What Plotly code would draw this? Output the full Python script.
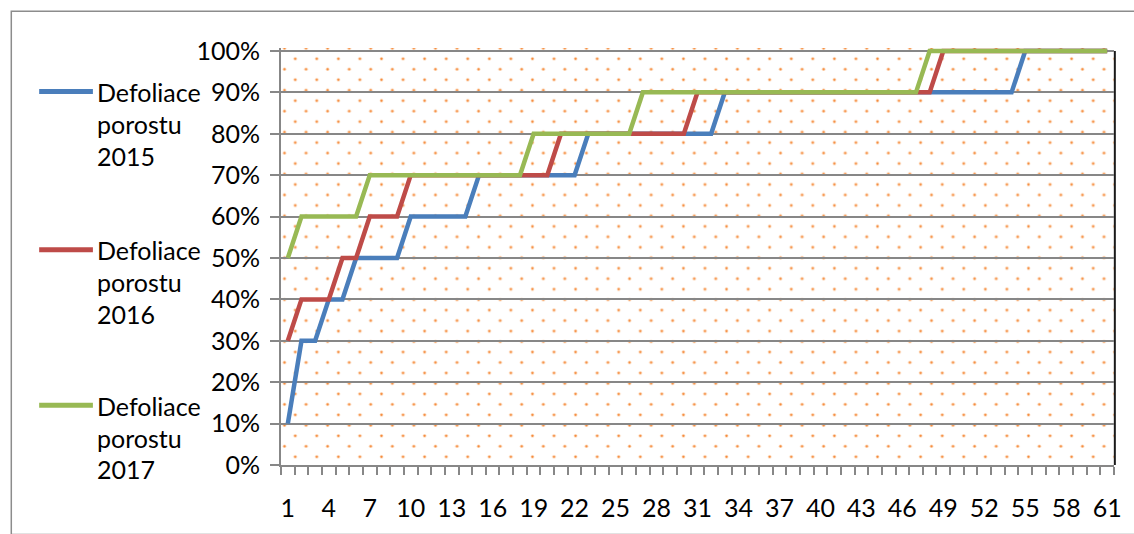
import base64
import plotly.graph_objects as go

# Category numbers on the horizontal axis
positions = list(range(1, 62))

# Defoliation share (%) per category
defol_2015 = [
    10, 30, 30, 40, 40, 50, 50, 50, 50, 60,
    60, 60, 60, 60, 70, 70, 70, 70, 70, 70,
    70, 70, 80, 80, 80, 80, 80, 80, 80, 80,
    80, 80, 90, 90, 90, 90, 90, 90, 90, 90,
    90, 90, 90, 90, 90, 90, 90, 90, 90, 90,
    90, 90, 90, 90, 100, 100, 100, 100, 100, 100,
    100,
]
defol_2016 = [
    30, 40, 40, 40, 50, 50, 60, 60, 60, 70,
    70, 70, 70, 70, 70, 70, 70, 70, 70, 70,
    80, 80, 80, 80, 80, 80, 80, 80, 80, 80,
    90, 90, 90, 90, 90, 90, 90, 90, 90, 90,
    90, 90, 90, 90, 90, 90, 90, 90, 100, 100,
    100, 100, 100, 100, 100, 100, 100, 100, 100, 100,
    100,
]
defol_2017 = [
    50, 60, 60, 60, 60, 60, 70, 70, 70, 70,
    70, 70, 70, 70, 70, 70, 70, 70, 80, 80,
    80, 80, 80, 80, 80, 80, 90, 90, 90, 90,
    90, 90, 90, 90, 90, 90, 90, 90, 90, 90,
    90, 90, 90, 90, 90, 90, 90, 100, 100, 100,
    100, 100, 100, 100, 100, 100, 100, 100, 100, 100,
    100,
]

series_names = ["Defoliace porostu 2015", "Defoliace porostu 2016", "Defoliace porostu 2017"]
series_values = [defol_2015, defol_2016, defol_2017]
series_colors = ["#4A7EBB", "#BE4B48", "#98B954"]

x_tick_vals = list(range(1, 62, 3))
x_tick_text = [str(v) for v in x_tick_vals]
y_tick_vals = list(range(0, 101, 10))
y_tick_text = [f"{v}%" for v in y_tick_vals]

# Figure geometry (pixels)
W, H = 1134, 534
PL, PR, PT, PB = 281, 1118, 48, 474
Y_TOP = 100.71  # leaves room above 100% so the top line is not clipped

FONT = "Lato, 'Open Sans', sans-serif"
FSIZE = 25
GRAY = "#878787"


def px_x(px):
    return (px - PL) / (PR - PL)


def px_y(py):
    return (PB - py) / (PB - PT)


# Dotted fill of the plotting area as an SVG pattern
pw, ph = PR - PL, PB - PT
svg = (
    f"<svg xmlns='http://www.w3.org/2000/svg' width='{pw}' height='{ph}' "
    f"viewBox='0 0 {pw} {ph}' preserveAspectRatio='none'>"
    "<defs><pattern id='d' x='0' y='2' width='21.67' height='21.4' patternUnits='userSpaceOnUse'>"
    "<circle cx='14.3' cy='9' r='1.9' fill='#F79646' fill-opacity='0.35'/>"
    "<circle cx='14.3' cy='9' r='1.15' fill='#F5893A'/>"
    "<circle cx='3.5' cy='19.7' r='1.9' fill='#F79646' fill-opacity='0.35'/>"
    "<circle cx='3.5' cy='19.7' r='1.15' fill='#F5893A'/>"
    "</pattern></defs>"
    f"<rect width='{pw}' height='{ph}' fill='url(#d)'/></svg>"
)
dots_uri = "data:image/svg+xml;base64," + base64.b64encode(svg.encode()).decode()

fig = go.Figure()
for name, vals, col in zip(series_names, series_values, series_colors):
    fig.add_trace(go.Scatter(
        x=positions, y=vals, mode="lines", name=name,
        line=dict(color=col, width=4.5),
        showlegend=False, hoverinfo="x+y+name",
    ))

shapes = [
    # outer chart frame
    dict(type="rect", xref="paper", yref="paper",
         x0=px_x(10), x1=px_x(1145), y0=px_y(545), y1=px_y(10.5),
         line=dict(color="#8C8C8C", width=1.5), layer="below"),
    # plot area border (top and right)
    dict(type="line", xref="paper", yref="y", x0=0, x1=1, y0=100, y1=100,
         line=dict(color="#1A1A1A", width=2), layer="between"),
    dict(type="line", xref="paper", yref="y", x0=1.001, x1=1.001, y0=0, y1=100,
         line=dict(color="#1A1A1A", width=2), layer="between"),
]

# Hand-placed legend: colour sample plus a three-line label per series
annotations = []
entry_tops = [92.5, 254, 413]
line_step = 32.5
for top, name, col in zip(entry_tops, series_names, series_colors):
    shapes.append(dict(
        type="line", xref="paper", yref="paper",
        x0=px_x(38), x1=px_x(92), y0=px_y(top), y1=px_y(top),
        line=dict(color=col, width=5),
    ))
    for k, w in enumerate(name.split(" ")):
        annotations.append(dict(
            text=w, xref="paper", yref="paper",
            x=px_x(94.5), y=px_y(top + 0.5 + k * line_step),
            xanchor="left", yanchor="middle", showarrow=False,
            font=dict(family=FONT, size=FSIZE, color="#000000"),
        ))

fig.update_layout(
    width=W, height=H,
    margin=dict(l=PL, r=W - PR, t=PT, b=H - PB, pad=0),
    paper_bgcolor="#FFFFFF",
    plot_bgcolor="#FFFFFF",
    font=dict(family=FONT, size=FSIZE, color="#000000"),
    shapes=shapes,
    annotations=annotations,
    images=[dict(
        source=dots_uri, xref="paper", yref="paper",
        x=0, y=1, sizex=1, sizey=1, xanchor="left", yanchor="top",
        sizing="stretch", layer="below",
    )],
    showlegend=False,
)

fig.update_xaxes(
    range=[0.5, 61.5],
    tickmode="array", tickvals=x_tick_vals, ticktext=x_tick_text,
    ticks="", showgrid=False, zeroline=False,
    showline=True, linecolor=GRAY, linewidth=2,
    ticklabelstandoff=20,
    minor=dict(tick0=0.5, dtick=1, ticks="outside", ticklen=8,
               tickcolor=GRAY, tickwidth=1.5, showgrid=False),
    tickfont=dict(family=FONT, size=FSIZE, color="#000000"),
    layer="below traces",
)
fig.update_yaxes(
    range=[0, Y_TOP],
    tickmode="array", tickvals=y_tick_vals, ticktext=y_tick_text,
    ticks="outside", ticklen=9, tickcolor=GRAY, tickwidth=1.5,
    showgrid=True, gridcolor=GRAY, gridwidth=1.5, zeroline=False,
    showline=True, linecolor=GRAY, linewidth=2,
    ticklabelstandoff=5,
    tickfont=dict(family=FONT, size=FSIZE, color="#000000"),
    layer="below traces",
)

fig.write_html("out.html")
